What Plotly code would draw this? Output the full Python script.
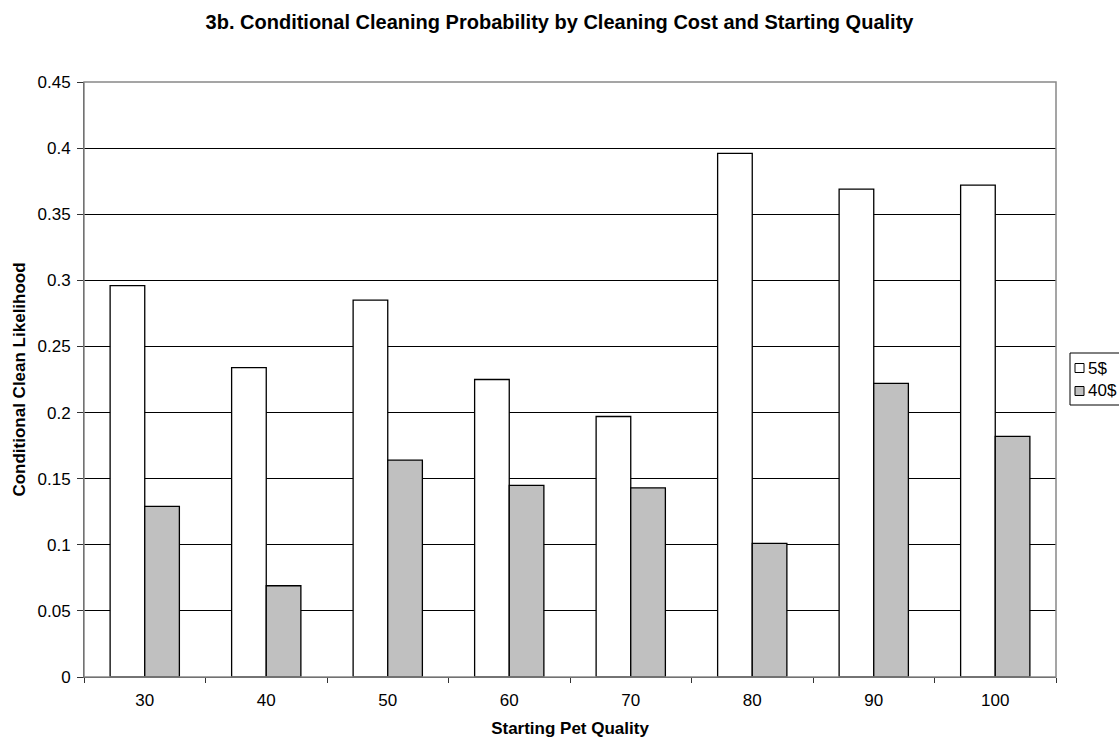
import plotly.graph_objects as go

categories = ["30", "40", "50", "60", "70", "80", "90", "100"]
series_names = ["5$", "40$"]
values_5 = [0.296, 0.234, 0.285, 0.225, 0.197, 0.396, 0.369, 0.372]
values_40 = [0.129, 0.069, 0.164, 0.145, 0.143, 0.101, 0.222, 0.182]
y_ticks = [0, 0.05, 0.1, 0.15, 0.2, 0.25, 0.3, 0.35, 0.4, 0.45]
y_tick_labels = ["0", "0.05", "0.1", "0.15", "0.2", "0.25", "0.3", "0.35", "0.4", "0.45"]
colors = ["#FFFFFF", "#C0C0C0"]

FONT = "Liberation Sans, Arial, sans-serif"

fig = go.Figure()
for name, vals, col in zip(series_names, [values_5, values_40], colors):
    fig.add_trace(go.Bar(
        x=categories, y=vals, name=name,
        marker=dict(color=col, line=dict(color="#000000", width=1.3)),
        showlegend=False,
    ))

W, H = 1119, 742
L, R, T, B = 84, 1056, 82, 677

fig.update_layout(
    width=W, height=H,
    margin=dict(l=L, r=W - R, t=T, b=H - B, autoexpand=False),
    paper_bgcolor="white", plot_bgcolor="white",
    barmode="group", bargap=0.43, bargroupgap=0,
    font=dict(family=FONT, size=17, color="black"),
    title=dict(
        text="<b>3b. Conditional Cleaning Probability by Cleaning Cost and Starting Quality</b>",
        xref="container", x=0.5, xanchor="center",
        yref="container", y=1 - 22 / H, yanchor="middle",
        font=dict(family=FONT, size=20, color="black"),
    ),
    xaxis=dict(
        type="category", categoryorder="array", categoryarray=categories,
        showline=True, linecolor="#333333", linewidth=1,
        ticks="outside", tickson="boundaries", ticklen=5, tickcolor="#333333",
        ticklabelstandoff=8,
        showgrid=False, tickfont=dict(size=17),
        title=dict(text="<b>Starting Pet Quality</b>", font=dict(size=17), standoff=12),
        automargin=False,
    ),
    yaxis=dict(
        range=[0, 0.45], tickvals=y_ticks, ticktext=y_tick_labels,
        showline=True, linecolor="#333333", linewidth=1,
        ticks="outside", ticklen=6, tickcolor="#333333",
        ticklabelstandoff=3,
        showgrid=True, gridcolor="#000000", gridwidth=1,
        zeroline=False, tickfont=dict(size=17),
        title=dict(text="<b>Conditional Clean Likelihood</b>", font=dict(size=17), standoff=7),
        automargin=False,
    ),
)

# plot-area border (top/right gray)
fig.add_shape(type="rect", xref="paper", yref="paper", x0=0, x1=1, y0=0, y1=1,
              line=dict(color="#888888", width=1.5), layer="above")

# manual legend
def px_x(p):
    return (p - L) / (R - L)

def px_y(p):
    return (B - p) / (B - T)

fig.add_shape(type="rect", xref="paper", yref="paper",
              x0=px_x(1070), x1=px_x(1130), y0=px_y(405), y1=px_y(353),
              line=dict(color="#000000", width=1), fillcolor="white", layer="above")
item_y = [368, 391]
for name, col, yc in zip(series_names, colors, item_y):
    fig.add_shape(type="rect", xref="paper", yref="paper",
                  x0=px_x(1075), x1=px_x(1084), y0=px_y(yc + 4.5), y1=px_y(yc - 4.5),
                  line=dict(color="#000000", width=1), fillcolor=col, layer="above")
    fig.add_annotation(text=name, xref="paper", yref="paper",
                       x=px_x(1086), y=px_y(yc),
                       xanchor="left", yanchor="middle", showarrow=False,
                       font=dict(family=FONT, size=17, color="black"))

fig.write_html("out.html")
